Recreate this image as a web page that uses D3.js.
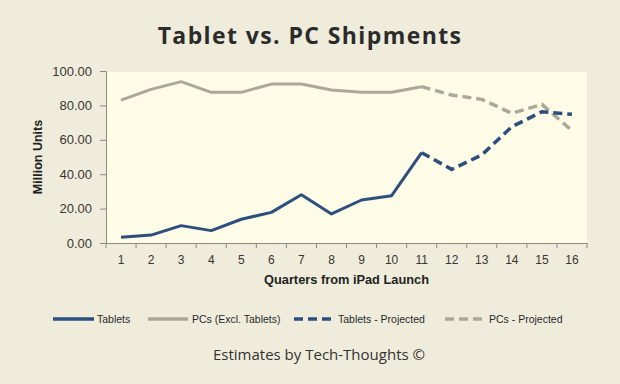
<!DOCTYPE html>
<html>
<head>
<meta charset="utf-8">
<script src="https://cdn.jsdelivr.net/npm/d3@7"></script>
<style>
  html, body { margin: 0; padding: 0; background: #efecdb; }
  svg { display: block; }
</style>
</head>
<body>
<div id="chart"></div>
<script>
const quarters = [1, 2, 3, 4, 5, 6, 7, 8, 9, 10, 11, 12, 13, 14, 15, 16];
const tablets = [3.3, 4.6, 10.1, 7.2, 13.8, 17.8, 28.1, 16.9, 25.0, 27.5, 52.5];
const pcs = [83.1, 89.3, 93.8, 87.6, 87.6, 92.4, 92.4, 89.0, 87.6, 87.6, 90.9];
const tabletsProjected = [52.5, 42.8, 51.2, 67.6, 76.3, 74.8];
const pcsProjected = [90.9, 86.0, 83.5, 75.4, 80.6, 65.3];
const yTicks = [0, 20, 40, 60, 80, 100];
const legendItems = ['Tablets', 'PCs (Excl. Tablets)', 'Tablets - Projected', 'PCs - Projected'];

const W = 620, H = 384;
const blue = '#2d4f7d', grey = '#aaa898';

const svg = d3.select('#chart').append('svg')
  .attr('width', W).attr('height', H);

svg.append('rect').attr('width', W).attr('height', H).attr('fill', '#efecdb');

const plot = { left: 106, right: 587, top: 71, bottom: 243 };

const x = d3.scaleBand()
  .domain(quarters)
  .range([plot.left, plot.right])
  .padding(0);
const cx = q => x(q) + x.bandwidth() / 2;

const y = d3.scaleLinear()
  .domain([0, 100])
  .range([plot.bottom, plot.top]);

// Plot area background
svg.append('rect')
  .attr('x', plot.left).attr('y', y(100) + 1)
  .attr('width', plot.right - plot.left)
  .attr('height', plot.bottom - y(100) - 1)
  .attr('fill', '#fefbe7');

// Title
svg.append('text')
  .attr('x', 310).attr('y', 44)
  .attr('text-anchor', 'middle')
  .attr('font-family', '"Open Sans", sans-serif')
  .attr('font-weight', 'bold')
  .attr('font-size', 23)
  .attr('letter-spacing', 1.4)
  .attr('fill', '#2b2b2b')
  .text('Tablet vs. PC Shipments');

// Axes
const yAxis = svg.append('g')
  .attr('transform', `translate(${plot.left},0)`)
  .call(d3.axisLeft(y).tickValues(yTicks).tickFormat(d3.format('.2f')).tickSize(6).tickPadding(8));

const xAxis = svg.append('g')
  .attr('transform', `translate(0,${plot.bottom})`)
  .call(d3.axisBottom(x).tickSize(0).tickPadding(12));

// x tick marks sit on the category boundaries
xAxis.selectAll('.boundary')
  .data(quarters.concat([null]))
  .join('line')
  .attr('x1', (d, i) => plot.left + i * x.bandwidth())
  .attr('x2', (d, i) => plot.left + i * x.bandwidth())
  .attr('y1', 0).attr('y2', 5)
  .attr('stroke', '#8c8a80');

[yAxis, xAxis].forEach(a => {
  a.select('.domain').attr('stroke', '#8c8a80');
  a.selectAll('.tick line').attr('stroke', '#8c8a80');
  a.selectAll('text')
    .attr('font-family', '"Liberation Sans", Arial, sans-serif')
    .attr('fill', '#3a3530');
});
yAxis.selectAll('text').attr('font-size', 13);
xAxis.selectAll('text').attr('font-size', 12);

// Axis titles
svg.append('text')
  .attr('transform', `translate(42,${(plot.top + plot.bottom) / 2}) rotate(-90)`)
  .attr('text-anchor', 'middle')
  .attr('font-family', '"Liberation Sans", Arial, sans-serif')
  .attr('font-weight', 'bold')
  .attr('font-size', 12.5)
  .attr('fill', '#222')
  .text('Million Units');

svg.append('text')
  .attr('x', (plot.left + plot.right) / 2).attr('y', 284)
  .attr('text-anchor', 'middle')
  .attr('font-family', '"Liberation Sans", Arial, sans-serif')
  .attr('font-weight', 'bold')
  .attr('font-size', 12.8)
  .attr('fill', '#222')
  .text('Quarters from iPad Launch');

// Lines
const line = d3.line().x(d => cx(d[0])).y(d => y(d[1]));
const zipFrom = (start, vals) => vals.map((v, i) => [quarters[start + i], v]);

const series = [
  { data: zipFrom(0, pcs), color: grey, dash: null },
  { data: zipFrom(10, pcsProjected), color: grey, dash: '9,5' },
  { data: zipFrom(0, tablets), color: blue, dash: null },
  { data: zipFrom(10, tabletsProjected), color: blue, dash: '9,5' }
];

svg.append('g').selectAll('path')
  .data(series)
  .join('path')
  .attr('d', d => line(d.data))
  .attr('fill', 'none')
  .attr('stroke', d => d.color)
  .attr('stroke-width', d => d.dash ? 3.5 : 3)
  .attr('stroke-dasharray', d => d.dash)
  .attr('stroke-linejoin', 'round');

// Legend
const legendPos = [
  { x0: 53, x1: 94, tx: 97, color: blue, dash: null },
  { x0: 148, x1: 188, tx: 192, color: grey, dash: null },
  { x0: 294, x1: 332, tx: 338, color: blue, dash: '9,5' },
  { x0: 445, x1: 482, tx: 489, color: grey, dash: '9,5' }
];
const legend = svg.append('g');
legendItems.forEach((name, i) => {
  const p = legendPos[i];
  legend.append('line')
    .attr('x1', p.x0).attr('x2', p.x1)
    .attr('y1', 319).attr('y2', 319)
    .attr('stroke', p.color)
    .attr('stroke-width', 3.5)
    .attr('stroke-dasharray', p.dash);
  legend.append('text')
    .attr('x', p.tx).attr('y', 323)
    .attr('font-family', '"Liberation Sans", Arial, sans-serif')
    .attr('font-size', 10.5)
    .attr('fill', '#2a2a2a')
    .text(name);
});

// Footer
svg.append('text')
  .attr('x', 319).attr('y', 360)
  .attr('text-anchor', 'middle')
  .attr('font-family', '"Open Sans", sans-serif')
  .attr('font-size', 15)
  .attr('fill', '#333')
  .text('Estimates by Tech-Thoughts ©');
</script>
</body>
</html>
